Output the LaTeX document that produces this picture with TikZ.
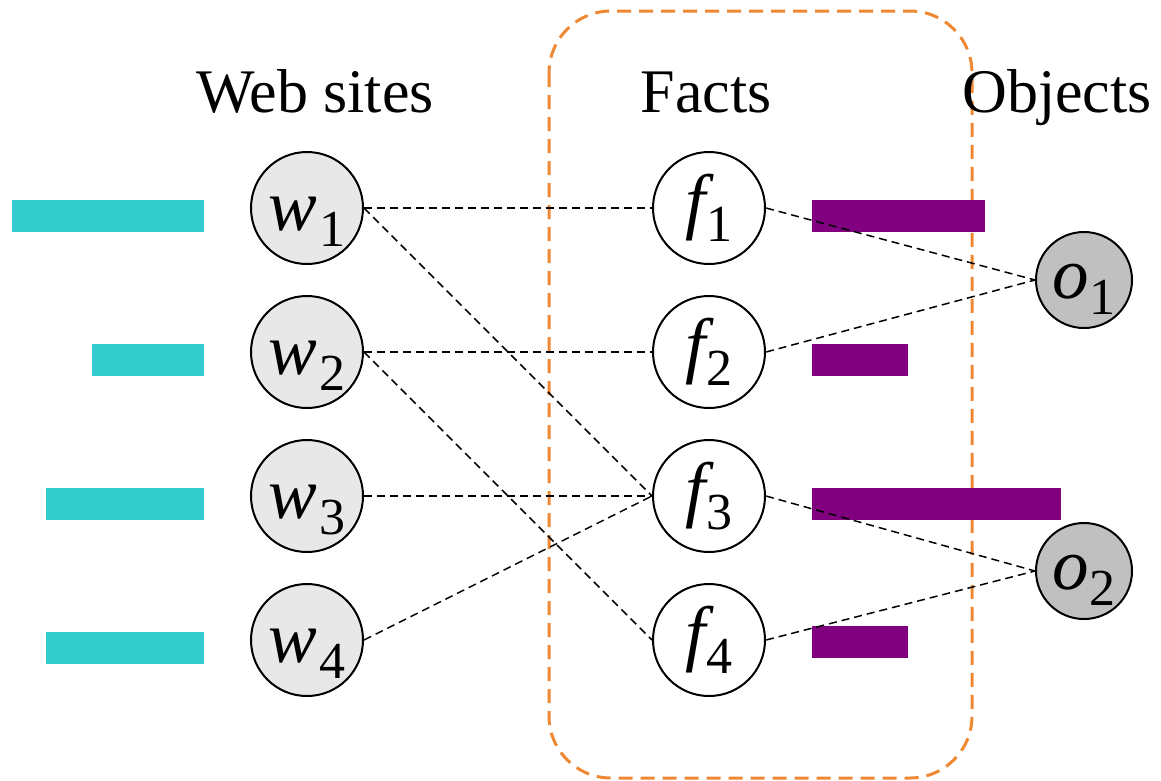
\documentclass[tikz,border=0pt]{standalone}
\usepackage{fontspec}
\setmainfont{Liberation Serif}
\newfontfamily\lblrm{Liberation Serif}
\newfontfamily\lblit{Liberation Serif Italic}
\definecolor{barteal}{HTML}{33CCCC}
\definecolor{barpurple}{HTML}{800080}
\definecolor{boxorange}{HTML}{EE8833}
\definecolor{wfill}{HTML}{E8E8E8}
\definecolor{ofill}{HTML}{C0C0C0}
\newcommand{\subdig}[1]{\kern0.02em\raisebox{-0.23em}{\lblrm\fontsize{52}{52}\selectfont #1}}
\tikzset{
  lblfont/.style={font=\lblit\fontsize{73}{73}\selectfont, text depth=0pt},
  wnode/.style={circle, draw=black, line width=2pt, fill=wfill, minimum size=112pt, inner sep=0pt, lblfont, text height=44pt},
  fnode/.style={circle, draw=black, line width=2pt, fill=white, minimum size=112pt, inner sep=0pt, lblfont, text height=34pt},
  onode/.style={circle, draw=black, line width=2pt, fill=ofill, minimum size=96pt, inner sep=0pt, lblfont, text height=36pt},
  link/.style={draw=black, line width=1.5pt, dash pattern=on 8pt off 5pt},
  title/.style={anchor=base, font=\lblrm\fontsize{62}{62}\selectfont, inner sep=0pt},
}
\begin{document}
\begin{tikzpicture}[x=1pt, y=-1pt]
\useasboundingbox (0,0) rectangle (1161,780);
% orange group box
\draw[boxorange, line width=3pt, dash pattern=on 14pt off 8pt, rounded corners=62pt] (549,11) rectangle (972,778);
% titles
\node[title] (tw) at (315,112) {Web sites};
\node[title] (tf) at (706,112) {Facts};
\node[title] (to) at (1057,112) {Objects};
% bars
\fill[barteal] (12,200) rectangle (204,232);
\fill[barteal] (92,344) rectangle (204,376);
\fill[barteal] (46,488) rectangle (204,520);
\fill[barteal] (46,632) rectangle (204,664);
\fill[barpurple] (812,200) rectangle (985,232);
\fill[barpurple] (812,344) rectangle (908,376);
\fill[barpurple] (812,488) rectangle (1061,520);
\fill[barpurple] (812,626) rectangle (908,658);
% nodes
\node[wnode] (w1) at (307,208) {w\subdig{1}};
\node[wnode] (w2) at (307,352) {w\subdig{2}};
\node[wnode] (w3) at (307,496) {w\subdig{3}};
\node[wnode] (w4) at (307,640) {w\subdig{4}};
\node[fnode] (f1) at (709,208) {f\subdig{1}};
\node[fnode] (f2) at (709,352) {f\subdig{2}};
\node[fnode] (f3) at (709,496) {f\subdig{3}};
\node[fnode] (f4) at (709,640) {f\subdig{4}};
\node[onode] (o1) at (1084,280) {o\subdig{1}};
\node[onode] (o2) at (1084,571) {o\subdig{2}};
% links
\draw[link] (w1.east) -- (f1.west);
\draw[link] (w1.east) -- (f3.west);
\draw[link] (w2.east) -- (f2.west);
\draw[link] (w2.east) -- (f4.west);
\draw[link] (w3.east) -- (f3.west);
\draw[link] (w4.east) -- (f3.west);
\draw[link] (f1.east) -- (o1.west);
\draw[link] (f2.east) -- (o1.west);
\draw[link] (f3.east) -- (o2.west);
\draw[link] (f4.east) -- (o2.west);
\end{tikzpicture}
\end{document}
